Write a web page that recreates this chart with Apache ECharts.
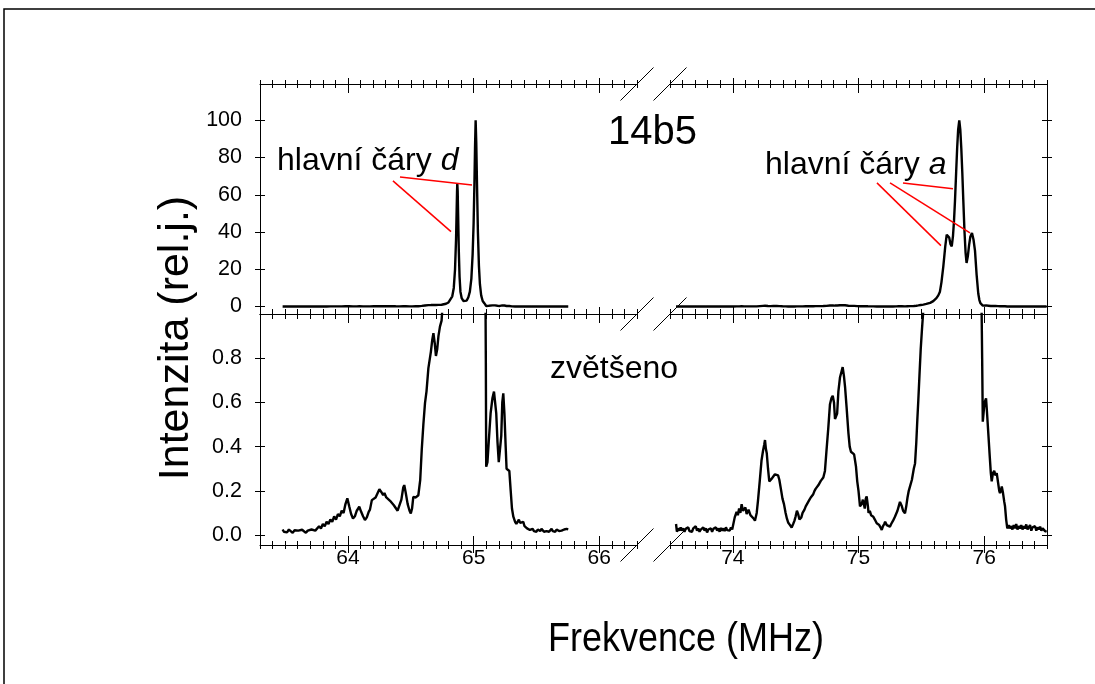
<!DOCTYPE html>
<html><head><meta charset="utf-8">
<script src="https://cdn.jsdelivr.net/npm/echarts@6/dist/echarts.min.js"></script>
<style>html,body{margin:0;padding:0;background:#fff}#c{width:1095px;height:684px}</style>
</head><body><div id="c"></div>
<script>
// ---------- DATA ----------
const leftFreq = [63.48,63.49,63.50,63.515,63.53,63.545,63.56,63.575,63.59,63.605,63.62,63.635,63.65,63.665,63.68,63.695,63.71,63.725,63.74,63.755,63.77,63.785,63.80,63.815,63.83,63.845,63.86,63.875,63.89,63.905,63.92,63.935,63.95,63.965,63.98,63.995,64.01,64.025,64.04,64.055,64.07,64.09,64.105,64.12,64.135,64.15,64.165,64.175,64.19,64.205,64.22,64.235,64.25,64.265,64.28,64.29,64.305,64.32,64.335,64.35,64.365,64.38,64.395,64.41,64.425,64.44,64.448,64.46,64.475,64.49,64.50,64.51,64.52,64.54,64.56,64.575,64.587,64.60,64.613,64.625,64.64,64.65,64.66,64.67,64.68,64.69,64.70,64.71,64.72,64.732,64.745,64.754,64.78,64.80,64.815,64.83,64.842,64.852,64.86,64.865,64.868,64.870,64.873,64.877,64.882,64.888,64.895,64.905,64.918,64.931,64.945,64.958,64.97,64.982,64.992,65.0,65.006,65.011,65.016,65.021,65.027,65.034,65.042,65.05,65.06,65.072,65.085,65.093,65.097,65.1,65.11,65.12,65.135,65.15,65.162,65.17,65.18,65.19,65.2,65.21,65.22,65.228,65.236,65.245,65.255,65.262,65.268,65.276,65.284,65.295,65.305,65.316,65.33,65.34,65.35,65.36,65.37,65.38,65.395,65.405,65.415,65.425,65.435,65.448,65.46,65.47,65.48,65.49,65.5,65.51,65.52,65.53,65.54,65.55,65.56,65.57,65.58,65.59,65.60,65.61,65.62,65.63,65.64,65.65,65.66,65.67,65.68,65.69,65.70,65.71,65.72,65.73,65.74,65.753];
const leftInt = [0.025,0.015,0.022,0.012,0.025,0.018,0.01,0.022,0.015,0.02,0.012,0.024,0.016,0.01,0.02,0.015,0.025,0.018,0.02,0.015,0.04,0.03,0.05,0.04,0.06,0.05,0.07,0.06,0.085,0.07,0.095,0.085,0.11,0.10,0.14,0.166,0.13,0.095,0.075,0.085,0.11,0.128,0.105,0.085,0.068,0.08,0.105,0.115,0.158,0.16,0.17,0.175,0.207,0.195,0.18,0.19,0.17,0.175,0.155,0.158,0.135,0.128,0.11,0.105,0.16,0.215,0.226,0.19,0.14,0.11,0.098,0.12,0.173,0.17,0.18,0.25,0.385,0.5,0.597,0.65,0.755,0.76,0.83,0.88,0.913,0.87,0.81,0.84,0.9,0.943,0.97,1.05,1.5,2.2,3.2,5.5,10,20,36,52,62,66,62,48,30,16,8,4.5,3,2.5,3.2,5,8,15,28,45,65,85,100,88,65,40,22,12,6,3,1.8,1.2,0.8,0.309,0.33,0.42,0.55,0.62,0.649,0.649,0.55,0.42,0.33,0.327,0.45,0.6,0.641,0.55,0.4,0.3,0.294,0.3,0.29,0.2,0.12,0.083,0.06,0.05,0.05,0.07,0.055,0.05,0.06,0.04,0.035,0.03,0.025,0.023,0.02,0.028,0.018,0.022,0.015,0.025,0.02,0.018,0.028,0.02,0.015,0.022,0.018,0.025,0.015,0.02,0.028,0.018,0.022,0.015,0.025,0.02,0.018,0.026,0.02,0.015,0.025,0.02,0.028,0.026];

const rightFreq = [73.548,73.555,73.565,73.575,73.585,73.595,73.605,73.615,73.625,73.635,73.645,73.655,73.665,73.675,73.685,73.695,73.705,73.715,73.725,73.735,73.745,73.755,73.765,73.775,73.785,73.795,73.805,73.815,73.825,73.835,73.845,73.855,73.865,73.875,73.885,73.895,73.905,73.915,73.925,73.935,73.945,73.955,73.965,73.975,73.985,73.995,74.005,74.015,74.03,74.04,74.05,74.06,74.07,74.08,74.09,74.1,74.11,74.125,74.14,74.15,74.165,74.176,74.19,74.2,74.215,74.228,74.24,74.25,74.256,74.263,74.27,74.28,74.29,74.3,74.31,74.322,74.335,74.35,74.36,74.37,74.385,74.395,74.407,74.42,74.43,74.44,74.455,74.468,74.48,74.49,74.5,74.51,74.52,74.53,74.545,74.555,74.57,74.58,74.588,74.6,74.61,74.62,74.628,74.64,74.65,74.66,74.667,74.68,74.69,74.7,74.707,74.72,74.733,74.745,74.76,74.773,74.785,74.795,74.805,74.813,74.82,74.83,74.84,74.853,74.865,74.874,74.884,74.893,74.905,74.92,74.93,74.94,74.955,74.965,74.972,74.98,74.99,75.0,75.012,75.025,75.035,75.05,75.058,75.065,75.075,75.08,75.09,75.1,75.11,75.118,75.13,75.145,75.155,75.165,75.175,75.185,75.195,75.205,75.212,75.225,75.238,75.25,75.26,75.275,75.29,75.3,75.31,75.32,75.33,75.345,75.355,75.37,75.38,75.39,75.4,75.41,75.425,75.44,75.45,75.46,75.468,75.476,75.485,75.495,75.505,75.516,75.54,75.57,75.595,75.62,75.635,75.648,75.66,75.675,75.69,75.702,75.712,75.722,75.732,75.742,75.752,75.76,75.768,75.777,75.785,75.793,75.802,75.81,75.818,75.826,75.834,75.843,75.852,75.86,75.87,75.88,75.89,75.903,75.915,75.927,75.94,75.953,75.962,75.97,75.978,75.984,75.989,75.995,76.003,76.015,76.022,76.033,76.045,76.053,76.06,76.07,76.08,76.09,76.1,76.11,76.12,76.126,76.133,76.14,76.15,76.16,76.166,76.175,76.184,76.195,76.205,76.215,76.225,76.235,76.245,76.255,76.265,76.275,76.285,76.295,76.305,76.315,76.325,76.335,76.345,76.355,76.365,76.375,76.385,76.395,76.405,76.415,76.425,76.435,76.445,76.455,76.465,76.475,76.485,76.497];
const rightInt = [0.05,0.015,0.03,0.02,0.035,0.02,0.03,0.015,0.028,0.02,0.035,0.018,0.025,0.015,0.03,0.022,0.04,0.02,0.03,0.015,0.025,0.018,0.035,0.02,0.03,0.012,0.025,0.02,0.03,0.015,0.028,0.02,0.035,0.02,0.03,0.015,0.032,0.02,0.03,0.018,0.035,0.022,0.03,0.02,0.035,0.025,0.03,0.08,0.105,0.09,0.12,0.1,0.14,0.11,0.11,0.125,0.095,0.115,0.09,0.088,0.075,0.065,0.1,0.155,0.25,0.336,0.38,0.41,0.43,0.39,0.37,0.3,0.243,0.245,0.255,0.265,0.275,0.283,0.27,0.25,0.2,0.165,0.14,0.1,0.075,0.057,0.045,0.034,0.05,0.064,0.085,0.11,0.095,0.07,0.08,0.1,0.115,0.13,0.125,0.15,0.16,0.17,0.178,0.185,0.2,0.21,0.215,0.225,0.235,0.245,0.253,0.26,0.29,0.38,0.487,0.592,0.62,0.63,0.6,0.525,0.53,0.55,0.65,0.714,0.74,0.76,0.72,0.67,0.58,0.46,0.4,0.377,0.37,0.365,0.362,0.31,0.243,0.2,0.13,0.14,0.16,0.12,0.165,0.175,0.13,0.1,0.11,0.09,0.095,0.083,0.07,0.053,0.06,0.045,0.035,0.023,0.04,0.05,0.06,0.045,0.05,0.038,0.05,0.065,0.083,0.09,0.11,0.13,0.15,0.13,0.11,0.098,0.13,0.17,0.2,0.22,0.25,0.3,0.324,0.42,0.52,0.61,0.72,0.84,0.93,1.02,1.4,2.0,2.9,4.5,6,8,13,21.6,32,38.6,39,37,33.5,32.3,38,46,57,72,85,95,100,95,85,72,57,41,29,23.4,27,33,37.5,39.5,36,30,17,7,3.5,1.8,1.1,0.8,0.513,0.55,0.6,0.618,0.56,0.46,0.35,0.28,0.243,0.28,0.29,0.27,0.28,0.24,0.2,0.19,0.2,0.22,0.19,0.15,0.13,0.07,0.03,0.045,0.03,0.04,0.025,0.045,0.03,0.05,0.025,0.04,0.03,0.045,0.025,0.04,0.03,0.048,0.025,0.035,0.045,0.02,0.035,0.028,0.04,0.02,0.035,0.025,0.038,0.02,0.03,0.025,0.018,0.015];

const xMajorLeft = [64, 65, 66];
const xMajorRight = [74, 75, 76];
const yTicksTop = [0, 20, 40, 60, 80, 100];
const yTicksBottom = [0, 0.2, 0.4, 0.6, 0.8];
const xRangeLeft = [63.3, 66.3];
const xRangeRight = [73.5, 76.5];
const yRangeTop = [-4, 119.5];
const yRangeBottom = [-0.045, 1.0];

// annotation leader lines (data coords)
const leadersD = [[[64.414, 69.6], [64.987, 65.3]], [[64.358, 67.5], [64.82, 40.2]]];
const leadersA = [[[75.354, 66.4], [75.752, 63.2]], [[75.147, 66.4], [75.656, 32.7]], [[75.251, 66.4], [75.887, 39.6]]];

// ---------- BUILD ----------
const FONT = '"Liberation Sans", Arial, sans-serif';
function minorTicks(r) {
  const out = [];
  for (let k = Math.round(r[0] * 10); k <= Math.round(r[1] * 10); k++) {
    if (k % 10 !== 0) out.push(k / 10);
  }
  return out;
}
const grids = [
  { left: 260, top: 84, width: 377, height: 230 },
  { left: 670, top: 84, width: 377, height: 230 },
  { left: 260, top: 314, width: 377, height: 231 },
  { left: 670, top: 314, width: 377, height: 231 }
].map(g => Object.assign({ outerBoundsMode: 'none', containLabel: false }, g));

const xAxes = [], yAxes = [];
function base(gi, r) {
  return { type: 'value', gridIndex: gi, min: r[0], max: r[1], splitLine: { show: false },
    axisLabel: { show: false }, axisTick: { show: false },
    axisLine: { show: false, onZero: false } };
}
function addX(gi, r, pos, opt) {
  const a = base(gi, r); a.position = pos;
  if (opt.line) a.axisLine = { show: true, onZero: false, lineStyle: { color: '#000', width: 1 } };
  if (opt.labels) a.axisLabel = { show: true, customValues: opt.labels, fontSize: 21, fontFamily: FONT, color: '#000', margin: 3 };
  if (opt.ticks) a.axisTick = { show: true, inside: opt.inside, length: opt.len, customValues: opt.ticks, lineStyle: { color: '#000', width: 1 } };
  xAxes.push(a); return xAxes.length - 1;
}
function addY(gi, r, pos, opt) {
  const a = base(gi, r); a.position = pos;
  if (opt.line) a.axisLine = { show: true, onZero: false, lineStyle: { color: '#000', width: 1 } };
  if (opt.labels) a.axisLabel = { show: true, customValues: opt.labels, fontSize: 21.5, fontFamily: FONT, color: '#000', margin: 18, formatter: opt.fmt };
  if (opt.ticks) a.axisTick = { show: true, inside: opt.inside, length: opt.len, customValues: opt.ticks, lineStyle: { color: '#000', width: 1 } };
  yAxes.push(a); return yAxes.length - 1;
}
function tickSet(gi, r, pos, majors, minors, lens, isX) {
  const f = isX ? addX : addY;
  if (lens[0]) f(gi, r, pos, { ticks: majors, inside: true, len: lens[0] });
  if (lens[1]) f(gi, r, pos, { ticks: majors, inside: false, len: lens[1] });
  if (minors && lens[2]) f(gi, r, pos, { ticks: minors, inside: true, len: lens[2] });
  if (minors && lens[3]) f(gi, r, pos, { ticks: minors, inside: false, len: lens[3] });
}

const panels = [
  { gi: 0, xr: xRangeLeft, yr: yRangeTop, maj: xMajorLeft, top: true, ySide: 'left', yt: yTicksTop },
  { gi: 1, xr: xRangeRight, yr: yRangeTop, maj: xMajorRight, top: true, ySide: 'right', yt: yTicksTop },
  { gi: 2, xr: xRangeLeft, yr: yRangeBottom, maj: xMajorLeft, top: false, ySide: 'left', yt: yTicksBottom },
  { gi: 3, xr: xRangeRight, yr: yRangeBottom, maj: xMajorRight, top: false, ySide: 'right', yt: yTicksBottom }
];
const idx = [];
panels.forEach(p => {
  const mins = minorTicks(p.xr);
  const xi = addX(p.gi, p.xr, 'bottom', { line: true, labels: p.top ? null : p.maj });
  addX(p.gi, p.xr, 'top', { line: true });
  if (p.top) {
    tickSet(p.gi, p.xr, 'top', p.maj, mins, [9, 6, 4, 4], true);
    tickSet(p.gi, p.xr, 'bottom', p.maj, mins, [7, 0, 5, 0], true);
  } else {
    tickSet(p.gi, p.xr, 'top', p.maj, mins, [9, 0, 5, 0], true);
    tickSet(p.gi, p.xr, 'bottom', p.maj, mins, [9, 8, 4, 4], true);
  }
  const labelsY = p.ySide === 'left' ? p.yt : null;
  const fmt = p.top ? (v => String(Math.round(v))) : (v => v.toFixed(1));
  const yi = addY(p.gi, p.yr, p.ySide, { line: true, labels: labelsY, fmt });
  tickSet(p.gi, p.yr, p.ySide, p.yt, null, [5, 5, 0, 0], false);
  idx.push([xi, yi]);
});

function zip(a, b) { return a.map((x, i) => [x, b[i]]); }
function leaderLines(list) {
  return { silent: true, symbol: 'none', animation: false, label: { show: false },
    lineStyle: { color: '#ff0000', width: 1.5, type: 'solid' },
    data: list.map(s => [{ coord: s[0] }, { coord: s[1] }]) };
}
const leftData = zip(leftFreq, leftInt);
const rightData = zip(rightFreq, rightInt);
function lineSeries(p, data, ml) {
  const s = { type: 'line', xAxisIndex: idx[p][0], yAxisIndex: idx[p][1], data, symbol: 'none', showSymbol: false,
    clip: true, lineStyle: { color: '#000', width: 2.4 }, itemStyle: { color: '#000' }, animation: false, z: 3 };
  if (ml) s.markLine = ml;
  return s;
}
const series = [
  lineSeries(0, leftData, leaderLines(leadersD)),
  lineSeries(1, rightData, leaderLines(leadersA)),
  lineSeries(2, leftData),
  lineSeries(3, rightData)
];

// break marks
const breakX = [637, 670], breakY = [84, 314, 545];
const graphics = [
  { type: 'rect', silent: true, shape: { x: 4, y: 9, width: 1200, height: 800 }, style: { fill: 'none', stroke: '#000', lineWidth: 1.5 } }
];
breakX.forEach(bx => breakY.forEach(by => graphics.push({
  type: 'line', silent: true, z: 10, shape: { x1: bx - 16.5, y1: by + 16.5, x2: bx + 16.5, y2: by - 16.5 },
  style: { stroke: '#000', lineWidth: 1 } })));
function txt(x, y, text, size, extra) {
  return Object.assign({ type: 'text', silent: true, x, y, z: 20,
    style: Object.assign({ text, fontSize: size, fontFamily: FONT, fill: '#000', align: 'left', verticalAlign: 'middle' }, extra || {}) });
}
graphics.push(txt(608, 133, '14b5', 40));
graphics.push(txt(277, 161.5, 'hlavní čáry {i|d}', 32, { rich: { i: { fontStyle: 'italic', fontSize: 32, fontFamily: FONT } } }));
graphics.push(txt(765, 165, 'hlavní čáry {i|a}', 32, { rich: { i: { fontStyle: 'italic', fontSize: 32, fontFamily: FONT } } }));
graphics.push(txt(550, 369, 'zvětšeno', 32));
graphics.push(Object.assign(txt(686, 640, 'Frekvence (MHz)', 36, { align: 'center' }), { scaleY: 1.12 }));
graphics.push(Object.assign(txt(176, 338, 'Intenzita (rel.j.)', 43, { align: 'center' }), { rotation: Math.PI / 2 }));

const chart = echarts.init(document.getElementById('c'), null, { renderer: 'canvas' });
chart.setOption({
  animation: false,
  backgroundColor: '#fff',
  grid: grids,
  xAxis: xAxes,
  yAxis: yAxes,
  series,
  graphic: graphics
});
</script>
</body></html>
